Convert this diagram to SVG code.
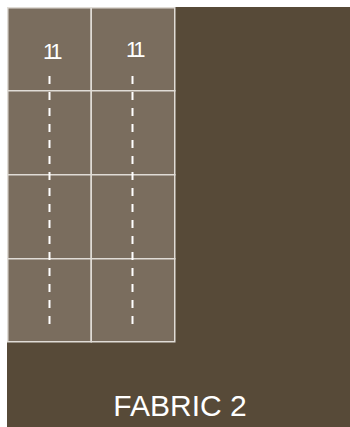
<svg xmlns="http://www.w3.org/2000/svg" width="350" height="427" viewBox="0 0 350 427">
<style>
.cell{fill:#7a6d5e;stroke:#e0dcd6;stroke-width:1.5}
.dash{stroke:#ffffff;stroke-width:2;stroke-dasharray:8 8;fill:none}
.num{font-family:"Liberation Sans",Arial,sans-serif;font-size:22px;fill:#ffffff;text-anchor:middle;letter-spacing:-3.5px}
.title{font-family:"Liberation Sans",Arial,sans-serif;font-size:30px;fill:#ffffff;text-anchor:middle}
</style>
<rect x="7" y="7" width="343" height="420" fill="#574a38"/>
<g id="grid">
<rect class="cell" x="7.75" y="7.75" width="83.5" height="83"/>
<rect class="cell" x="91.25" y="7.75" width="83.5" height="83"/>
<rect class="cell" x="7.75" y="90.75" width="83.5" height="84"/>
<rect class="cell" x="91.25" y="90.75" width="83.5" height="84"/>
<rect class="cell" x="7.75" y="174.75" width="83.5" height="84"/>
<rect class="cell" x="91.25" y="174.75" width="83.5" height="84"/>
<rect class="cell" x="7.75" y="258.75" width="83.5" height="83"/>
<rect class="cell" x="91.25" y="258.75" width="83.5" height="83"/>
</g>
<g id="connectors">
<line class="dash" x1="49.5" y1="76" x2="49.5" y2="328"/>
<line class="dash" x1="132.5" y1="76" x2="132.5" y2="328"/>
</g>
<g id="label-1"><text class="num" x="51" y="58.5">11</text></g>
<g id="label-2"><text class="num" x="134" y="56.8">11</text></g>
<g id="title"><text class="title" x="180" y="416">FABRIC 2</text></g>
</svg>
